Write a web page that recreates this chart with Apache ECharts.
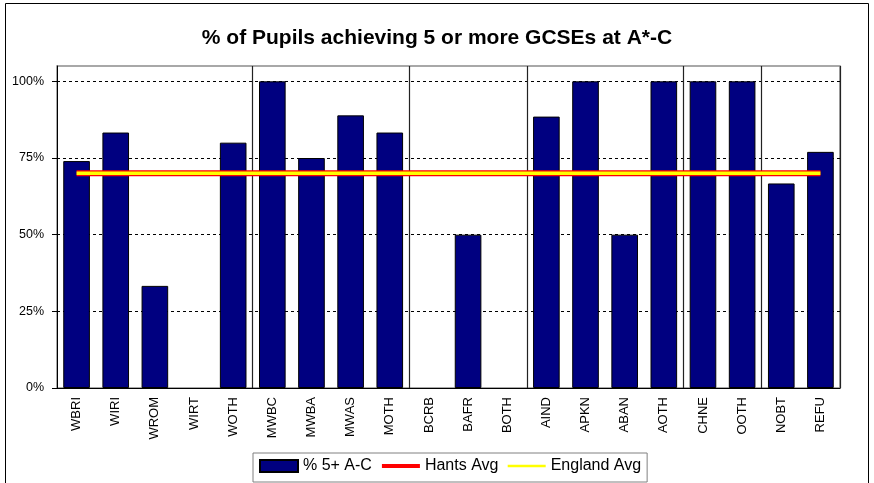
<!DOCTYPE html>
<html>
<head>
<meta charset="utf-8">
<script src="https://cdn.jsdelivr.net/npm/echarts@6/dist/echarts.min.js"></script>
<style>html,body{margin:0;padding:0;background:#fff}#c{width:874px;height:483px}</style>
</head>
<body>
<div id="c"></div>
<script>
var categories = ['WBRI','WIRI','WROM','WIRT','WOTH','MWBC','MWBA','MWAS','MOTH','BCRB','BAFR','BOTH','AIND','APKN','ABAN','AOTH','CHNE','OOTH','NOBT','REFU'];
var pct5AC = [74.0, 83.3, 33.3, 0, 80.0, 100, 75.0, 88.9, 83.3, 0, 50.0, 0, 88.5, 100, 50.0, 100, 100, 100, 66.7, 77.0];
var hantsAvg = [70,70,70,70,70,70,70,70,70,70,70,70,70,70,70,70,70,70,70,70];
var englandAvg = [70,70,70,70,70,70,70,70,70,70,70,70,70,70,70,70,70,70,70,70];
var groupStarts = ['MWBC','BCRB','AIND','CHNE','NOBT'];
var yTicks = [0, 25, 50, 75, 100];

var FONT = "'Liberation Sans', Arial, sans-serif";
var chart = echarts.init(document.getElementById('c'), null, {renderer: 'canvas'});
var barData = pct5AC.map(function (v) {
  return v === 0 ? {value: v, itemStyle: {borderWidth: 0}} : v;
});
var option = {
  animation: false,
  backgroundColor: '#ffffff',
  textStyle: {fontFamily: FONT, color: '#000'},
  title: {
    text: '% of Pupils achieving 5 or more GCSEs at A*-C',
    left: 'center',
    top: 23,
    textStyle: {fontFamily: FONT, fontSize: 21, fontWeight: 'bold', color: '#000'}
  },
  graphic: [{
    type: 'rect', silent: true, z: -1,
    shape: {x: 5.5, y: 3.5, width: 863, height: 520},
    style: {fill: 'none', stroke: '#000', lineWidth: 1}
  }],
  legend: {
    left: 253, top: 453,
    itemWidth: 38, itemHeight: 12, itemGap: 8,
    borderColor: '#808080', borderWidth: 1,
    padding: [5, 6, 8, 6],
    textStyle: {fontFamily: FONT, fontSize: 16, color: '#000'},
    data: [
      {name: '% 5+ A-C', icon: 'rect'},
      {name: 'Hants Avg', itemStyle: {opacity: 0}, lineStyle: {width: 4}},
      {name: 'England Avg', itemStyle: {opacity: 0}, lineStyle: {width: 2.5}}
    ]
  },
  grid: {
    left: 57, right: 34, top: 66, bottom: 95,
    show: true, borderColor: '#8c8c8c', borderWidth: 1.5, backgroundColor: '#fff'
  },
  xAxis: {
    type: 'category',
    data: categories,
    axisLine: {lineStyle: {color: '#000', width: 1}},
    axisTick: {length: 5, lineStyle: {color: '#000'}},
    axisLabel: {rotate: 90, fontSize: 13, color: '#000', margin: 9, fontFamily: FONT, interval: 0},
    splitLine: {
      show: true,
      interval: function (i, v) { return groupStarts.indexOf(categories[i]) >= 0; },
      lineStyle: {color: '#222', width: 1.2, type: 'solid'}
    }
  },
  yAxis: {
    type: 'value',
    min: 0, max: 105, interval: 25,
    axisLine: {show: true, lineStyle: {color: '#000', width: 1}},
    axisTick: {show: true, length: 5, lineStyle: {color: '#000'}, customValues: yTicks},
    axisLabel: {
      fontSize: 12.5, color: '#000', margin: 13, fontFamily: FONT, customValues: yTicks,
      formatter: function (v) { return v + '%'; }
    },
    splitLine: {show: true, lineStyle: {color: '#000', type: [3, 3], width: 1}}
  },
  series: [
    {
      name: '% 5+ A-C', type: 'bar', data: barData,
      barCategoryGap: '32%',
      itemStyle: {color: '#000080', borderColor: '#000', borderWidth: 1}
    },
    {
      name: 'Hants Avg', type: 'line', data: hantsAvg,
      symbol: 'none', lineStyle: {color: '#ff0000', width: 6},
      itemStyle: {color: '#ff0000'}
    },
    {
      name: 'England Avg', type: 'line', data: englandAvg,
      symbol: 'none', lineStyle: {color: '#ffff00', width: 3.5},
      itemStyle: {color: '#ffff00'}
    }
  ]
};
chart.setOption(option);
</script>
</body>
</html>
